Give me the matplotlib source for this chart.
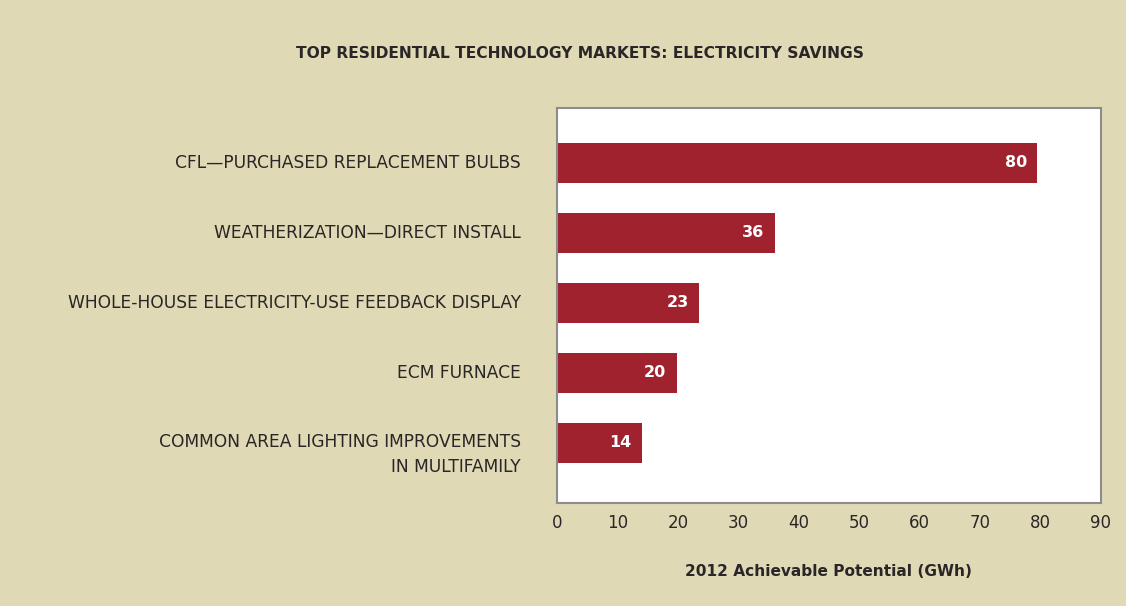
import matplotlib
matplotlib.use("Agg")
import matplotlib.pyplot as plt
import matplotlib.transforms as mtransforms

plt.rcParams['font.family'] = ['DejaVu Sans']

categories = ["CFL\u2014PURCHASED REPLACEMENT BULBS",
              "WEATHERIZATION\u2014DIRECT INSTALL",
              "WHOLE-HOUSE ELECTRICITY-USE FEEDBACK DISPLAY",
              "ECM FURNACE",
              "COMMON AREA LIGHTING IMPROVEMENTS\nIN MULTIFAMILY"]
values = [79.5, 36, 23.5, 19.8, 14]
value_labels = ["80", "36", "23", "20", "14"]
xticks = [0, 10, 20, 30, 40, 50, 60, 70, 80, 90]

bg = "#dfdab5"
bar_color = "#a0222f"
text_color = "#2a2627"

fig = plt.figure(figsize=(11.26, 6.06), dpi=100, facecolor=bg)
ax = fig.add_axes([0.4947, 0.170, 0.483, 0.652])
ax.set_facecolor("white")

ypos = list(range(len(categories)))
ax.barh(ypos, values, height=0.57, color=bar_color)

for y, v, lab in zip(ypos, values, value_labels):
    ax.text(v - 1.7, y, lab, ha="right", va="center", color="white",
            fontsize=11.5, fontweight="bold")

ax.set_xlim(0, 90)
ax.set_ylim(4.857, -0.786)
ax.set_xticks(xticks)
ax.set_xticklabels([str(t) for t in xticks], fontsize=12, color=text_color)
ax.set_yticks(ypos)
ax.set_yticklabels([])
ax.tick_params(axis="y", length=0)
ax.tick_params(axis="x", length=0, pad=8)

# category labels, right aligned left of the frame; first line centred on the bar
trans = mtransforms.blended_transform_factory(ax.transAxes, ax.transData)
trans = trans + mtransforms.ScaledTranslation(-36 / 100, 0, fig.dpi_scale_trans)
for y, lab in zip(ypos, categories):
    nlines = lab.count("\n") + 1
    ax.text(0, y + 0.165 * (nlines - 1), lab, transform=trans, ha="right", va="center",
            fontsize=12.3, color=text_color, linespacing=1.55, multialignment="right")

for s in ax.spines.values():
    s.set_color("#8c8c8c")
    s.set_linewidth(1.5)

ax.set_xlabel("2012 Achievable Potential (GWh)", fontsize=11.1,
              fontweight="bold", color=text_color, labelpad=23)

fig.text(0.515, 0.912, "TOP RESIDENTIAL TECHNOLOGY MARKETS: ELECTRICITY SAVINGS",
         ha="center", va="center", fontsize=11.2, fontweight="bold", color=text_color)

fig.savefig("out.png", dpi=100, facecolor=bg)
